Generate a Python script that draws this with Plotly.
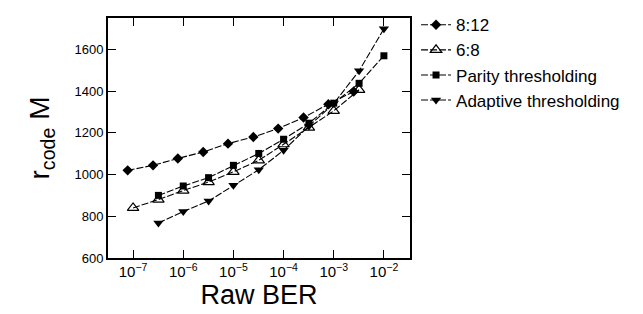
import plotly.graph_objects as go

# Data
ber_812 = [7.8e-8, 2.5e-7, 7.8e-7, 2.5e-6, 7.8e-6, 2.5e-5, 7.8e-5, 2.5e-4, 7.8e-4, 2.5e-3]
r_812 = [1020, 1044, 1077, 1108, 1148, 1180, 1220, 1273, 1337, 1398]

ber_68 = [1e-7, 3.2e-7, 1e-6, 3.2e-6, 1e-5, 3.2e-5, 1e-4, 3.2e-4, 1e-3, 3.2e-3]
r_68 = [840, 880, 923, 964, 1013, 1068, 1145, 1225, 1305, 1406]

ber_par = [3.2e-7, 1e-6, 3.2e-6, 1e-5, 3.2e-5, 1e-4, 3.2e-4, 1e-3, 3.2e-3, 1e-2]
r_par = [900, 945, 985, 1044, 1101, 1169, 1246, 1342, 1437, 1569]

ber_ad = [3.2e-7, 1e-6, 3.2e-6, 1e-5, 3.2e-5, 1e-4, 3.2e-4, 1e-3, 3.2e-3, 1e-2]
r_ad = [768, 823, 873, 948, 1023, 1116, 1232, 1340, 1497, 1698]

y_ticks = [600, 800, 1000, 1200, 1400, 1600]

FONT = "Liberation Sans, Arial, sans-serif"

series = [
    ("8:12", ber_812, r_812, dict(symbol="diamond", size=8, color="black")),
    ("6:8", ber_68, r_68, dict(symbol="triangle-up-open", size=10, color="black", line=dict(width=1.2, color="black"))),
    ("Parity thresholding", ber_par, r_par, dict(symbol="square", size=7, color="black")),
    ("Adaptive thresholding", ber_ad, r_ad, dict(symbol="triangle-down", size=9, color="black")),
]

fig = go.Figure()
for name, x, y, mk in series:
    fig.add_trace(go.Scatter(
        x=x, y=y, name=name, mode="lines+markers",
        line=dict(color="black", width=1.1, dash="7px,2px"),
        marker=mk,
    ))

fig.update_layout(
    width=643, height=314,
    margin=dict(l=100, r=241, t=10, b=64, autoexpand=False),
    paper_bgcolor="white", plot_bgcolor="white",
    font=dict(family=FONT, color="black"),
    showlegend=True,
    legend=dict(
        x=1.02, y=1.045, xanchor="left", yanchor="top",
        font=dict(size=17, family=FONT, color="black"),
        bgcolor="rgba(0,0,0,0)", borderwidth=0,
        itemwidth=30, tracegroupgap=0,
    ),
)

fig.update_xaxes(
    type="log", range=[-7.5, -1.48], dtick=1,
    exponentformat="power", showexponent="all",
    showgrid=False, zeroline=False, automargin=False,
    showline=True, linecolor="black", linewidth=2, mirror="ticks",
    ticks="inside", ticklen=8, tickwidth=1, tickcolor="black",
    tickfont=dict(size=12, family=FONT, color="black"),
    title=dict(text="Raw BER", font=dict(size=27, family=FONT, color="black"), standoff=6),
)
fig.update_yaxes(
    range=[600, 1750], tickvals=y_ticks,
    showgrid=False, zeroline=False, automargin=False,
    showline=True, linecolor="black", linewidth=2, mirror="ticks",
    ticks="inside", ticklen=8, tickwidth=1, tickcolor="black",
    tickfont=dict(size=13, family=FONT, color="black"),
    title=dict(text="r<sub>code</sub> M", font=dict(size=28, family=FONT, color="black"), standoff=17),
)

fig.write_html("out.html")
